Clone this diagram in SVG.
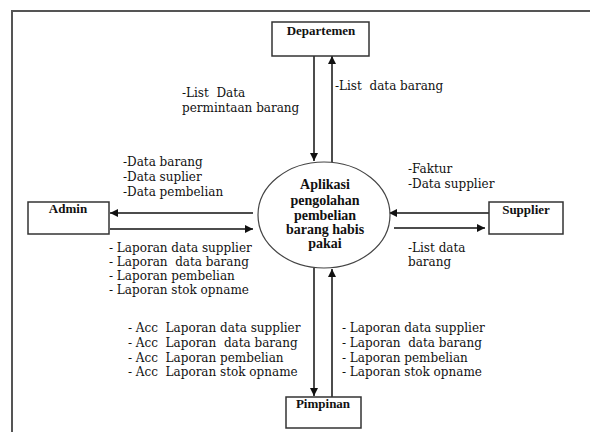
<svg xmlns="http://www.w3.org/2000/svg" width="590" height="432" viewBox="0 0 590 432">
<style>
.box{fill:#fff;stroke:#333;stroke-width:1.5}
.nt{font-family:"Liberation Serif",serif;font-weight:bold;font-size:13px;fill:#111;text-anchor:middle}
.pt{font-size:14px}
.lb{font-family:"DejaVu Serif",serif;font-size:12px;fill:#111;white-space:pre}
.ln{stroke:#111;stroke-width:1.5;fill:none}
</style>
<defs>
<marker id="ah" viewBox="0 0 10 10" refX="10" refY="5" markerWidth="8" markerHeight="8" markerUnits="userSpaceOnUse" orient="auto">
<path d="M0,0 L10,5 L0,10 z" fill="#111"/>
</marker>
</defs>
<rect width="590" height="432" fill="#fff"/>
<path d="M12,432 V11 H590" fill="none" stroke="#555" stroke-width="2"/>
<g id="connectors">
<line class="ln" x1="314" y1="56" x2="314" y2="161" marker-end="url(#ah)"/>
<line class="ln" x1="332" y1="162" x2="332" y2="56" marker-end="url(#ah)"/>
<line class="ln" x1="253" y1="213" x2="110" y2="213" marker-end="url(#ah)"/>
<line class="ln" x1="110" y1="229" x2="253" y2="229" marker-end="url(#ah)"/>
<line class="ln" x1="489" y1="213" x2="389" y2="213" marker-end="url(#ah)"/>
<line class="ln" x1="394" y1="228" x2="485" y2="228" marker-end="url(#ah)"/>
<line class="ln" x1="314" y1="268" x2="314" y2="396" marker-end="url(#ah)"/>
<line class="ln" x1="332" y1="397" x2="332" y2="269" marker-end="url(#ah)"/>
</g>
<g id="departemen">
<rect class="box" x="272" y="22" width="97" height="34"/>
<text class="nt" x="321" y="35">Departemen</text>
</g>
<g id="admin">
<rect class="box" x="28" y="202" width="81" height="32"/>
<text class="nt" x="68" y="213">Admin</text>
</g>
<g id="supplier">
<rect class="box" x="489" y="202" width="74" height="32"/>
<text class="nt" x="526" y="214">Supplier</text>
</g>
<g id="pimpinan">
<rect class="box" x="286" y="397" width="75" height="31"/>
<text class="nt" x="323" y="408">Pimpinan</text>
</g>
<g id="proses">
<ellipse cx="324" cy="215" rx="66" ry="53" fill="#fff" stroke="#444" stroke-width="1.2"/>
<text class="nt pt" x="325" y="189">Aplikasi</text>
<text class="nt pt" x="325" y="205">pengolahan</text>
<text class="nt pt" x="325" y="220">pembelian</text>
<text class="nt pt" x="325" y="234">barang habis</text>
<text class="nt pt" x="325" y="248">pakai</text>
</g>
<g id="labels">
<text class="lb" x="182" y="97">-List  Data</text>
<text class="lb" x="182" y="112">permintaan barang</text>
<text class="lb" x="335" y="90">-List  data barang</text>
<text class="lb" x="123" y="166">-Data barang</text>
<text class="lb" x="123" y="181">-Data suplier</text>
<text class="lb" x="123" y="196">-Data pembelian</text>
<text class="lb" x="109" y="252">- Laporan data supplier</text>
<text class="lb" x="109" y="266">- Laporan  data barang</text>
<text class="lb" x="109" y="280">- Laporan pembelian</text>
<text class="lb" x="109" y="294">- Laporan stok opname</text>
<text class="lb" x="408" y="173">-Faktur</text>
<text class="lb" x="408" y="188">-Data supplier</text>
<text class="lb" x="408" y="252">-List data</text>
<text class="lb" x="408" y="266">barang</text>
<text class="lb" x="128" y="332">- Acc  Laporan data supplier</text>
<text class="lb" x="128" y="347">- Acc  Laporan  data barang</text>
<text class="lb" x="128" y="362">- Acc  Laporan pembelian</text>
<text class="lb" x="128" y="376">- Acc  Laporan stok opname</text>
<text class="lb" x="342" y="332">- Laporan data supplier</text>
<text class="lb" x="342" y="347">- Laporan  data barang</text>
<text class="lb" x="342" y="362">- Laporan pembelian</text>
<text class="lb" x="342" y="376">- Laporan stok opname</text>
</g>
</svg>
